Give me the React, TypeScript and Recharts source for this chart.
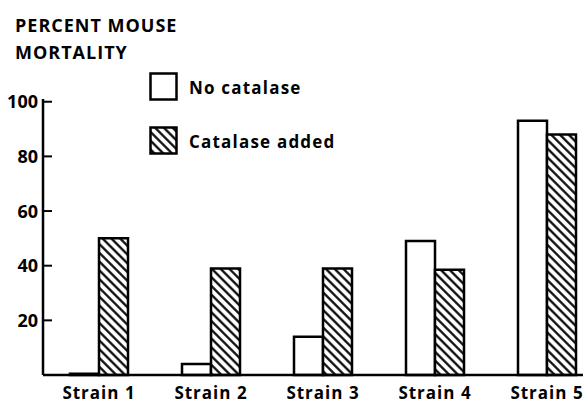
import React from 'react';
import { BarChart, Bar, XAxis, YAxis } from 'recharts';

const strains = ['Strain 1', 'Strain 2', 'Strain 3', 'Strain 4', 'Strain 5'];
const noCatalase = [0.5, 4, 14, 49, 93];
const catalaseAdded = [50, 39, 39, 38.5, 88];
const yTicks = [20, 40, 60, 80, 100];

const FONT = '"Open Sans", "DejaVu Sans", sans-serif';

const HatchDefs = ({ id }: { id: string }) => (
  <defs>
    <pattern id={id} width={6.2} height={6.2} patternUnits="userSpaceOnUse" patternTransform="rotate(-45)">
      <rect width={6.2} height={6.2} fill="#fff" />
      <line x1={3.1} y1={0} x2={3.1} y2={6.2} stroke="#000" strokeWidth={2.2} />
    </pattern>
  </defs>
);

const YTick = (props: any) => {
  const { x, y, payload } = props;
  return (
    <g>
      <line x1={x + 5} x2={x + 14} y1={y} y2={y} stroke="#000" strokeWidth={2} />
      <text x={x} y={y} dy="0.36em" textAnchor="end" fontFamily={FONT} fontWeight={700} fontSize={18} fill="#000">
        {payload.value}
      </text>
    </g>
  );
};

const LegendBox = () => (
  <div style={{ fontFamily: FONT, fontWeight: 700, fontSize: 17, letterSpacing: 1.2, color: '#000' }}>
    <div style={{ display: 'flex', alignItems: 'center', height: 30 }}>
      <svg width={30} height={30} style={{ marginRight: 10 }}>
        <rect x={1.5} y={1.5} width={26} height={26} fill="#fff" stroke="#000" strokeWidth={2.5} />
      </svg>
      No catalase
    </div>
    <div style={{ display: 'flex', alignItems: 'center', height: 30, marginTop: 24 }}>
      <svg width={30} height={30} style={{ marginRight: 10 }}>
        <HatchDefs id="hatchLegend" />
        <rect x={1.5} y={1.5} width={26} height={26} fill="url(#hatchLegend)" stroke="#000" strokeWidth={2.5} />
      </svg>
      Catalase added
    </div>
  </div>
);

export default function App() {
  const data = strains.map((s, i) => ({ strain: s, none: noCatalase[i], added: catalaseAdded[i] }));
  return (
    <div style={{ position: 'absolute', left: 0, top: 0, width: 583, height: 404, overflow: 'hidden', background: '#fff' }}>
      <div style={{ position: 'absolute', left: 15, top: 12, fontFamily: FONT, fontWeight: 700, fontSize: 18, lineHeight: '27px', letterSpacing: 1, color: '#000' }}>
        PERCENT MOUSE<br />MORTALITY
      </div>
      <BarChart width={610} height={404} data={data} margin={{ top: 99, right: 7, left: 0, bottom: 0 }} barGap={0} barSize={29}>
        <HatchDefs id="hatch" />
        <XAxis
          dataKey="strain"
          height={29}
          tickSize={0}
          tickMargin={12}
          axisLine={{ stroke: '#000', strokeWidth: 2.5 }}
          tickLine={false}
          tick={{ fill: '#000', fontFamily: FONT, fontWeight: 700, fontSize: 17, letterSpacing: 1 }}
        />
        <YAxis
          width={43}
          domain={[0, 101]}
          ticks={yTicks}
          tickSize={0}
          tickMargin={5}
          axisLine={{ stroke: '#000', strokeWidth: 2.5 }}
          tickLine={false}
          tick={<YTick />}
        />
        <Bar dataKey="none" name="No catalase" fill="#fff" stroke="#000" strokeWidth={2.5} isAnimationActive={false} />
        <Bar dataKey="added" name="Catalase added" fill="url(#hatch)" stroke="#000" strokeWidth={2.5} isAnimationActive={false} />
      </BarChart>
      <div style={{ position: 'absolute', left: 149, top: 72 }}>
        <LegendBox />
      </div>
    </div>
  );
}
